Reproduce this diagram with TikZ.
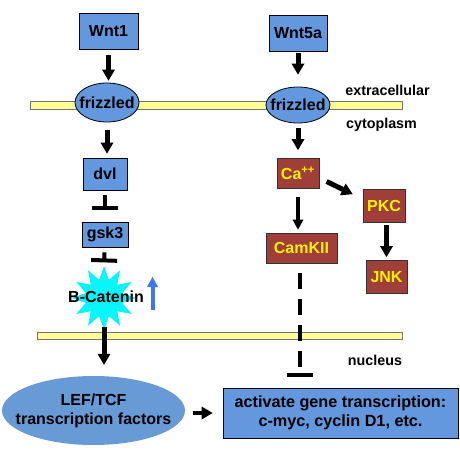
\documentclass[tikz,border=0pt]{standalone}
\usepackage{fontspec}
\setmainfont{Liberation Sans}
\usetikzlibrary{arrows.meta,shapes.geometric}

\definecolor{wntblue}{RGB}{100,152,222}
\definecolor{lefblue}{RGB}{104,154,214}
\definecolor{kinred}{RGB}{160,62,58}
\definecolor{membyellow}{RGB}{255,255,150}
\definecolor{upblue}{RGB}{60,122,235}
\definecolor{catcyan}{RGB}{10,245,250}

\tikzset{
  bluebox/.style={draw=black, line width=0.8pt, fill=wntblue, inner sep=0pt,
    font=\bfseries\fontsize{16}{18}\selectfont},
  redbox/.style={draw=black!80, line width=0.8pt, fill=kinred, text=yellow, inner sep=0pt,
    font=\bfseries\fontsize{16}{18}\selectfont},
  fzd/.style={ellipse, draw=black, line width=0.8pt, fill=wntblue, inner sep=0pt,
    minimum width=64pt, label={[font=\bfseries\fontsize{16}{18}\selectfont]center:frizzled}},
  lbl/.style={font=\bfseries\fontsize{14.3}{16}\selectfont},
  memb/.style={draw=black!55, line width=0.6pt, fill=membyellow},
  activates/.style={-{Triangle[length=11pt,width=13pt,line width=0pt]}, line width=5pt},
  blocks/.style={-{Bar[width=26pt]}, line width=4pt},
}

\begin{document}
\begin{tikzpicture}[x=1pt,y=-1pt]
    \useasboundingbox (0,0) rectangle (460,460);

    % membranes
    \filldraw[memb] (30,101) rectangle (402,109);
    \filldraw[memb] (37,332) rectangle (402,339);

    \node[lbl] (extra) at (387.5,90) {extracellular};
    \node[lbl] (cyto) at (381.5,125) {cytoplasm};
    \node[lbl] (nuc) at (375,360) {nucleus};

    % canonical pathway
    \node[bluebox, minimum width=59pt, minimum height=36pt] (wntone) at (108.5,31) {Wnt1};
    \node[fzd, minimum height=39pt] (fzdone) at (107,102.5) {};
    \node[bluebox, minimum width=44pt, minimum height=32pt] (dvl) at (105,174) {dvl};
    \node[bluebox, minimum width=46pt, minimum height=25pt] (gsk) at (105,234.5) {gsk3};
    \node[star, star points=12, star point ratio=1.7, fill=catcyan, inner sep=0pt,
          minimum size=64pt] (bcat) at (104,298) {};
    \node[font=\bfseries\fontsize{16}{18}\selectfont] (bcatlbl) at (106,297) {B-Catenin};
    \coordinate (upfrom) at (152.5,310);
    \coordinate (upto) at (152.5,277);
    \node[ellipse, fill=lefblue, minimum width=183pt, minimum height=69pt, inner sep=0pt,
          label={[align=center, font=\bfseries\fontsize{16}{19}\selectfont]center:LEF/TCF\\transcription factors}]
          (lef) at (93.5,410.5) {};

    % non-canonical pathway
    \node[bluebox, minimum width=58pt, minimum height=36pt] (wntfive) at (298,33) {Wnt5a};
    \node[fzd, minimum height=36pt] (fzdfive) at (298,105) {};
    \node[redbox, minimum width=42pt, minimum height=30pt] (ca) at (298,173.5) {Ca\textsuperscript{++}};
    \node[redbox, minimum width=42pt, minimum height=33pt] (pkc) at (384,205.5) {PKC};
    \node[redbox, minimum width=71pt, minimum height=30pt] (camk) at (301.5,248) {CamKII};
    \node[redbox, minimum width=41pt, minimum height=33pt] (jnk) at (386.5,277) {JNK};

    \node[bluebox, minimum width=235pt, minimum height=50pt, align=center,
          font=\bfseries\fontsize{16.2}{19}\selectfont] (gene) at (340.5,413)
          {activate gene transcription:\\c-myc, cyclin D1, etc.};

    % connectors
    \draw[activates, shorten <=6pt, shorten >=2pt] (wntone) -- (wntone.south |- fzdone.north);
    \draw[activates, shorten <=8pt, shorten >=4pt] (fzdone.south) -- (fzdone.south |- dvl.north);
    \draw[blocks, shorten <=5pt, shorten >=12pt] (dvl) -- (gsk);
    \draw[blocks, shorten <=5pt, shorten >=3pt] (gsk) -- (bcat.north);
    \draw[-{Triangle[length=10pt,width=11pt,line width=0pt]}, line width=4pt, upblue] (upfrom) -- (upto);
    \draw[activates, shorten <=-4pt, shorten >=11pt] (bcat.south) -- (bcat.south |- lef.north);
    \draw[activates, line width=4.5pt, shorten <=8pt, shorten >=10pt] (lef.east |- gene) -- (gene.west);

    \draw[activates, shorten <=2pt, shorten >=12pt] (wntfive) -- (fzdfive.north);
    \draw[activates, shorten <=5pt, shorten >=8pt] (fzdfive.south) -- (ca.north);
    \draw[activates, shorten <=8pt, shorten >=11pt] ([yshift=-4.5pt]ca.east) -- ([yshift=6.5pt]pkc.west);
    \draw[-{Triangle[length=10pt,width=11pt,line width=0pt]}, line width=3.5pt, shorten <=8pt, shorten >=3pt]
        (ca.south) -- (ca.south |- camk.north);
    \draw[activates, shorten <=3pt, shorten >=3pt] (pkc.south -| jnk.north) -- (jnk.north);
    \draw[blocks, dash pattern=on 16pt off 10pt, shorten <=10pt, shorten >=11pt]
        (camk.south -| 300,0) -- (gene.north -| 300,0);
\end{tikzpicture}
\end{document}
